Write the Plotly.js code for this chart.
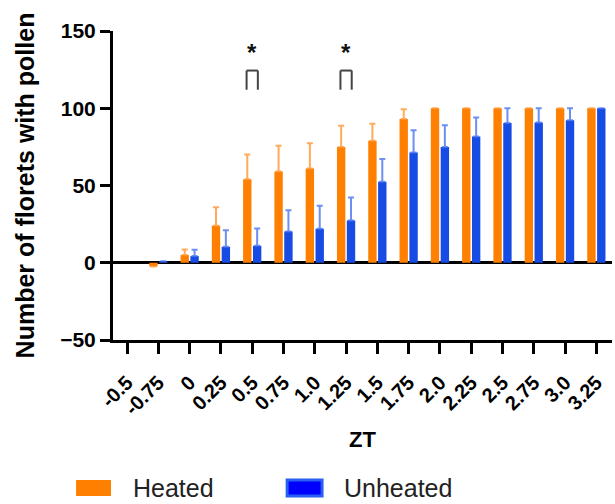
<!DOCTYPE html>
<html>
<head>
<meta charset="utf-8">
<script src="https://cdn.plot.ly/plotly-3.0.1.min.js"></script>
<style>html,body{margin:0;padding:0;background:#fff;}#chart{width:615px;height:504px;}</style>
</head>
<body>
<div id="chart"></div>
<script>
// ---- data ----
var categories = ['-0.5','-0.75','0','0.25','0.5','0.75','1.0','1.25','1.5','1.75','2.0','2.25','2.5','2.75','3.0','3.25'];
var heated      = [null, -2.4, 5, 24, 54, 59, 61, 75, 79, 93, 100, 100, 100, 100, 100, 100];
var heatedErr   = [0, 0, 3.6, 12, 16, 16.7, 16.4, 13.6, 11, 6.3, 0, 0, 0, 0, 0, 0];
var unheated    = [null, 1, 4.3, 10.3, 11, 20.3, 22, 27.4, 52.4, 71.4, 75, 81.7, 90.5, 90.7, 92.3, 100];
var unheatedErr = [0, 0, 4.1, 10.7, 11.2, 13.7, 14.9, 14.9, 14.7, 14.4, 14, 12.3, 9.5, 9.3, 7.7, 0];
var seriesNames = ['Heated', 'Unheated'];
var significant = ['0.5', '1.25'];
var sigLabel = '*';
var yTicks = [-50, 0, 50, 100, 150];

var ORANGE = '#FF8000', BLUE = 'rgb(22,75,228)';
var FONT = 'Liberation Sans, Arial, sans-serif';

function errTrace(name, y, err, color, errColor) {
  return {
    type: 'bar', name: name, x: categories, y: y,
    marker: {color: color, line: {width: 0}},
    error_y: {type: 'data', symmetric: false, array: err, arrayminus: err.map(function(){return 0;}),
              color: errColor, thickness: 2, width: 3},
    showlegend: false
  };
}

var traces = [
  errTrace(seriesNames[0], heated, heatedErr, ORANGE, 'rgba(255,150,50,0.8)'),
  errTrace(seriesNames[1], unheated, unheatedErr, BLUE, 'rgba(70,115,240,0.8)')
];

var shapes = [];
var annotations = [];
var half = 0.18, yLow = 112, yHigh = 124.4, yStar = 136;
significant.forEach(function(c){
  var i = categories.indexOf(c);
  var col = '#444';
  shapes.push({type:'line', xref:'x', yref:'y', x0:i-half, x1:i-half, y0:yLow, y1:yHigh, line:{color:col, width:2}});
  shapes.push({type:'line', xref:'x', yref:'y', x0:i+half, x1:i+half, y0:yLow, y1:yHigh, line:{color:col, width:2}});
  shapes.push({type:'line', xref:'x', yref:'y', x0:i-half, x1:i+half, y0:yHigh, y1:yHigh, line:{color:col, width:2}});
  annotations.push({xref:'x', yref:'y', x:i, y:yStar, text:sigLabel, showarrow:false,
    font:{family:FONT, size:24, weight:'bold', color:'#111'}});
});

// custom legend (below the plot)
shapes.push({type:'rect', xref:'paper', yref:'paper', x0:-0.074, x1:-0.004, y0:-0.505, y1:-0.453,
  fillcolor:ORANGE, line:{width:0}});
shapes.push({type:'rect', xref:'paper', yref:'paper', x0:0.349, x1:0.419, y0:-0.505, y1:-0.453,
  fillcolor:'#0000FF', line:{color:'rgb(40,95,240)', width:3}});
annotations.push({xref:'paper', yref:'paper', x:0.036, y:-0.479, xanchor:'left', yanchor:'middle',
  text:seriesNames[0], showarrow:false, font:{family:FONT, size:25, color:'#222'}});
annotations.push({xref:'paper', yref:'paper', x:0.459, y:-0.479, xanchor:'left', yanchor:'middle',
  text:seriesNames[1], showarrow:false, font:{family:FONT, size:25, color:'#222'}});

var layout = {
  width: 615, height: 504,
  margin: {l: 113, r: 3, t: 31, b: 164},
  paper_bgcolor: '#fff', plot_bgcolor: '#fff',
  barmode: 'group', bargap: 0.37, bargroupgap: 0.15,
  showlegend: false,
  xaxis: {
    type: 'category', range: [-0.45, 15.5],
    showline: true, linewidth: 3, linecolor: '#000',
    ticks: 'outside', ticklen: 11, tickwidth: 3, tickcolor: '#000',
    ticklabelstandoff: 9,
    tickangle: -45, showgrid: false, zeroline: false,
    tickfont: {family: FONT, size: 20, weight: 'bold', color: '#000'},
    title: {text: 'ZT', standoff: 14, font: {family: FONT, size: 22, weight: 'bold', color: '#000'}}
  },
  yaxis: {
    range: [-50, 150], tickvals: yTicks,
    showline: true, linewidth: 3, linecolor: '#000',
    ticks: 'outside', ticklen: 10, tickwidth: 3, tickcolor: '#000',
    showgrid: false, zeroline: true, zerolinewidth: 3, zerolinecolor: '#000',
    tickfont: {family: FONT, size: 21, weight: 'bold', color: '#000'},
    title: {text: 'Number of florets with pollen', standoff: 19, font: {family: FONT, size: 25, weight: 'bold', color: '#000'}}
  },
  shapes: shapes,
  annotations: annotations
};

Plotly.newPlot('chart', traces, layout, {displayModeBar: false, staticPlot: true});
</script>
</body>
</html>
